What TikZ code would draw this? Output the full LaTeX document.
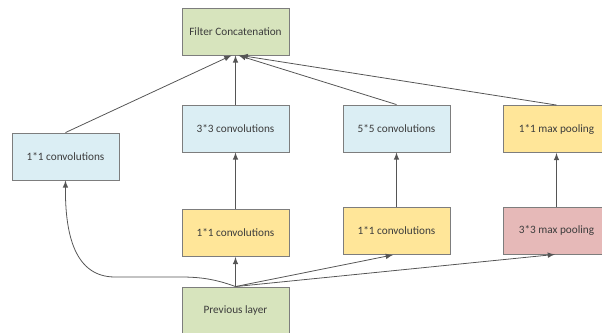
\documentclass[tikz,border=0pt]{standalone}
\usepackage{fontspec}
\setmainfont{Carlito}
\definecolor{boxgreen}{RGB}{215,228,189}
\definecolor{boxblue}{RGB}{219,238,244}
\definecolor{boxyellow}{RGB}{255,230,153}
\definecolor{boxred}{RGB}{230,185,184}
\definecolor{edgegray}{RGB}{125,125,125}
\definecolor{linegray}{RGB}{85,85,85}
\definecolor{textgray}{RGB}{60,60,60}
\tikzset{
  layer/.style={draw=edgegray, line width=0.5pt, minimum width=2.14cm, minimum height=0.94cm,
    inner sep=0pt, text=textgray, font=\fontsize{6.4}{7.5}\selectfont},
  flow/.style={->, >=latex, draw=linegray, line width=0.45pt, shorten >=0pt}
}
\begin{document}
\begin{tikzpicture}[x=0.02cm, y=-0.02cm]
    \useasboundingbox (0,0) rectangle (602,333);
    \clip (0,0) rectangle (602,333);
    % boxes
    \node [layer, fill=boxgreen] (concat) at (235.5,31.5) {Filter Concatenation};
    \node [layer, fill=boxblue] (convA) at (65.5,156.5) {1*1 convolutions};
    \node [layer, fill=boxblue] (convB) at (235.5,128.5) {3*3 convolutions};
    \node [layer, fill=boxblue] (convC) at (396.5,128.5) {5*5 convolutions};
    \node [layer, fill=boxyellow] (poolA) at (556.5,129) {1*1 max pooling};
    \node [layer, fill=boxyellow] (reduceB) at (235.5,233) {1*1 convolutions};
    \node [layer, fill=boxyellow] (reduceC) at (396.5,231) {1*1 convolutions};
    \node [layer, fill=boxred] (poolB) at (556.5,230.5) {3*3 max pooling};
    \node [layer, fill=boxgreen] (prev) at (235.5,310.5) {Previous layer};
    % into the concatenation
    \coordinate (inA) at ([xshift=-0.08cm]concat.south);
    \coordinate (inC) at ([xshift=0.06cm]concat.south);
    \coordinate (inD) at ([xshift=0.1cm]concat.south);
    \draw [flow] (convA.north) -- (inA);
    \draw [flow] (convB) -- (concat);
    \draw [flow] (convC.north) -- (inC);
    \draw [flow] (poolA.north) -- (inD);
    % branches
    \draw [flow] (reduceB) -- (convB);
    \draw [flow] (reduceC) -- (convC);
    \draw [flow] (poolB) -- (poolA);
    % from the previous layer
    \coordinate (endC) at ([xshift=-0.07cm]reduceC.south);
    \coordinate (endD) at ([xshift=-0.03cm]poolB.south);
    \draw [flow] (prev) -- (reduceB);
    \draw [flow] (prev.north) .. controls (215,279) and (200,277) .. (180,277) -- (115,277)
      .. controls (75,277) and (65,235) .. (convA.south);
    \draw [flow] (prev.north) -- (endC);
    \draw [flow] (prev.north) -- (endD);
\end{tikzpicture}
\end{document}
